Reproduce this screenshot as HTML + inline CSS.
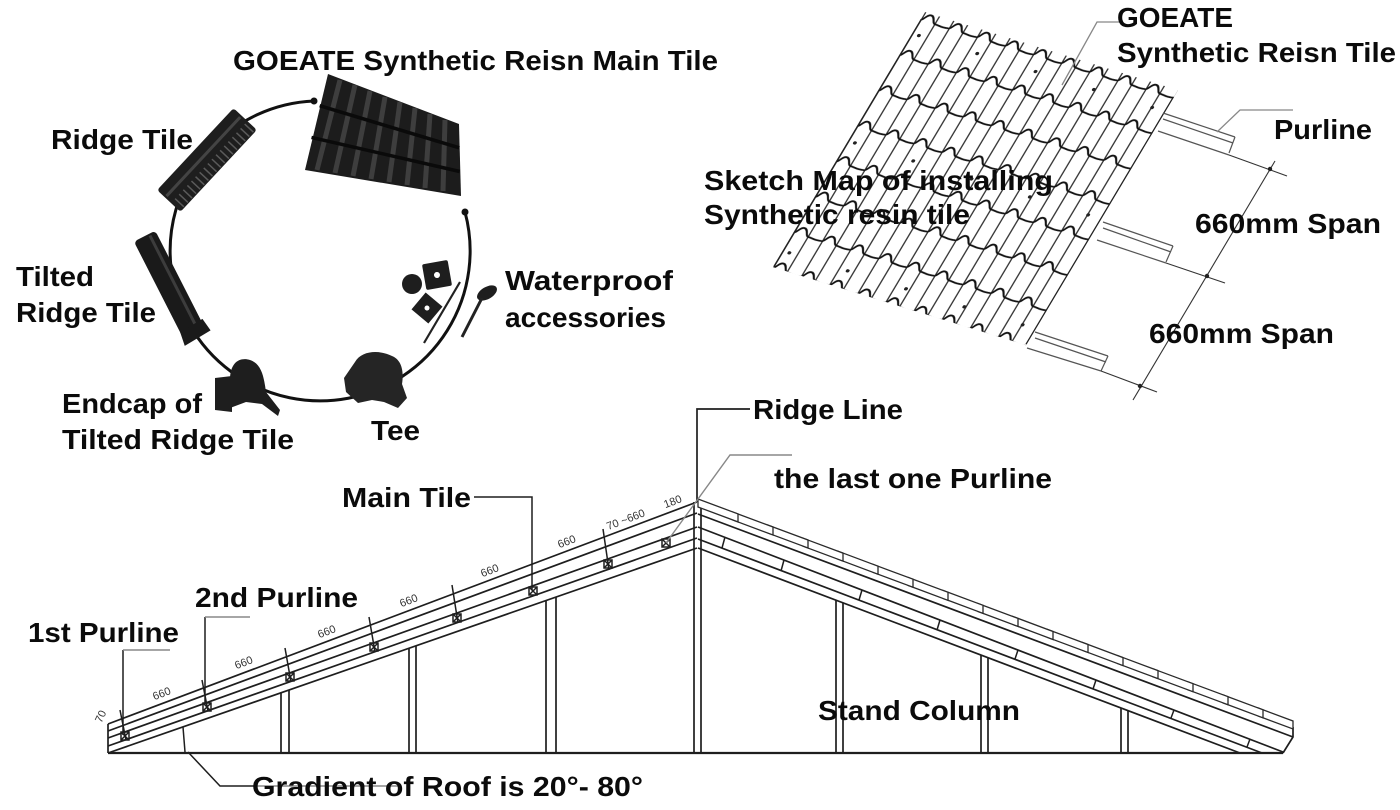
<!DOCTYPE html>
<html><head><meta charset="utf-8"><style>
html,body{margin:0;padding:0;background:#fff;}
svg{display:block;}
.t{font-family:"Liberation Sans",Arial,sans-serif;font-weight:bold;font-size:28px;fill:#0b0b0b;}
.s{font-family:"Liberation Sans",Arial,sans-serif;font-size:11px;fill:#333;}
</style></head><body>
<svg width="1400" height="810" viewBox="0 0 1400 810" xmlns="http://www.w3.org/2000/svg">
<defs>
<pattern id="tp" patternUnits="userSpaceOnUse" width="29.4" height="41.26">
 <path d="M0.8,0 V41.26 M15.2,0 V41.26" stroke="#2a2a2a" stroke-width="1.3" fill="none"/>
 <path d="M0,9 C3,9 3,1.5 7.5,1.5 C12,1.5 12,9 15,9 C20,9 24,10.5 29.4,9" stroke="#111" stroke-width="1.9" fill="none"/>
</pattern>
</defs>
<rect width="1400" height="810" fill="#fff"/>

<!-- ===== Circle diagram ===== -->
<path d="M314,101 A150,150 0 1 0 465,212" fill="none" stroke="#111" stroke-width="3"/>
<circle cx="314" cy="101" r="3.5" fill="#111"/>
<circle cx="465" cy="212" r="3.5" fill="#111"/>

<!-- main tile -->
<polygon points="328,74 459,124 461,196 305,170" fill="#1c1c1c"/>
<g stroke="#3e3e3e" stroke-width="5">
<line x1="340" y1="80" x2="317" y2="170"/>
<line x1="355" y1="85" x2="335" y2="173"/>
<line x1="370" y1="91" x2="353" y2="176"/>
<line x1="385" y1="97" x2="371" y2="179"/>
<line x1="400" y1="102" x2="389" y2="182"/>
<line x1="415" y1="108" x2="407" y2="185"/>
<line x1="430" y1="114" x2="425" y2="188"/>
<line x1="445" y1="120" x2="443" y2="191"/>
</g>
<g stroke="#0a0a0a" stroke-width="3.5">
<line x1="319.7" y1="105.7" x2="459.3" y2="147.8"/>
<line x1="311.5" y1="137.4" x2="459.7" y2="171.5"/>
</g>

<!-- ridge tile -->
<g transform="translate(207,160) rotate(-47)">
<rect x="-56" y="-16" width="112" height="32" rx="3" fill="#1e1e1e"/>
<line x1="-54" y1="-5" x2="54" y2="-5" stroke="#444" stroke-width="3"/>
<g stroke="#5a5a5a" stroke-width="1.5">
<line x1="-50" y1="3" x2="-50" y2="15"/><line x1="-44" y1="3" x2="-44" y2="15"/><line x1="-38" y1="3" x2="-38" y2="15"/><line x1="-32" y1="3" x2="-32" y2="15"/><line x1="-26" y1="3" x2="-26" y2="15"/><line x1="-20" y1="3" x2="-20" y2="15"/><line x1="-14" y1="3" x2="-14" y2="15"/><line x1="-8" y1="3" x2="-8" y2="15"/><line x1="-2" y1="3" x2="-2" y2="15"/><line x1="4" y1="3" x2="4" y2="15"/><line x1="10" y1="3" x2="10" y2="15"/><line x1="16" y1="3" x2="16" y2="15"/><line x1="22" y1="3" x2="22" y2="15"/><line x1="28" y1="3" x2="28" y2="15"/><line x1="34" y1="3" x2="34" y2="15"/><line x1="40" y1="3" x2="40" y2="15"/><line x1="46" y1="3" x2="46" y2="15"/><line x1="52" y1="3" x2="52" y2="15"/>
</g>
</g>

<!-- tilted ridge tile -->
<g transform="translate(170,286) rotate(63)">
<rect x="-56" y="-12" width="112" height="24" rx="4" fill="#1a1a1a"/>
<line x1="-54" y1="-5" x2="54" y2="-5" stroke="#3c3c3c" stroke-width="3"/>
<polygon points="44,-14 58,-16 60,14 46,12" fill="#1a1a1a"/>
</g>

<!-- endcap -->
<polygon points="215,378 232,376 232,412 215,410" fill="#1e1e1e"/>
<path d="M230,408 L230,380 C230,362 240,357 250,360 C262,364 264,378 266,392 L280,410 L278,416 L262,404 L246,402 Z" fill="#1e1e1e"/>

<!-- tee -->
<path d="M355,362 C362,350 380,350 392,356 C402,360 404,372 402,384 L407,398 L398,408 L384,402 L372,400 L358,403 L346,392 L344,378 Z" fill="#252525"/>

<!-- accessories -->
<circle cx="412" cy="284" r="10" fill="#1e1e1e"/>
<g transform="translate(437,275) rotate(-10)"><rect x="-13" y="-13" width="26" height="26" rx="2" fill="#1e1e1e"/><circle r="3" fill="#fff"/></g>
<g transform="translate(427,308) rotate(40)"><rect x="-11" y="-11" width="22" height="22" fill="#1e1e1e"/><circle r="2.5" fill="#fff"/></g>
<line x1="460" y1="282" x2="424" y2="343" stroke="#222" stroke-width="2.2"/>
<ellipse cx="487" cy="293" rx="11" ry="6" transform="rotate(-30 487 293)" fill="#1e1e1e"/>
<line x1="482" y1="298" x2="462" y2="337" stroke="#222" stroke-width="3"/>

<!-- circle labels -->
<text class="t" x="233" y="70" textLength="485" lengthAdjust="spacingAndGlyphs">GOEATE Synthetic Reisn Main Tile</text>
<text class="t" x="51" y="149" textLength="142" lengthAdjust="spacingAndGlyphs">Ridge Tile</text>
<text class="t" x="16" y="286" textLength="78" lengthAdjust="spacingAndGlyphs">Tilted</text>
<text class="t" x="16" y="322" textLength="140" lengthAdjust="spacingAndGlyphs">Ridge Tile</text>
<text class="t" x="62" y="413" textLength="140" lengthAdjust="spacingAndGlyphs">Endcap of</text>
<text class="t" x="62" y="449" textLength="232" lengthAdjust="spacingAndGlyphs">Tilted Ridge Tile</text>
<text class="t" x="371" y="440" textLength="49" lengthAdjust="spacingAndGlyphs">Tee</text>
<text class="t" x="505" y="290" textLength="168" lengthAdjust="spacingAndGlyphs">Waterproof</text>
<text class="t" x="505" y="327" textLength="161" lengthAdjust="spacingAndGlyphs">accessories</text>

<!-- ===== Tile sketch ===== -->
<g transform="matrix(0.956 0.295 -0.512 0.859 925 12)">
<rect width="264.7" height="297" fill="url(#tp)"/>
<line x1="0.5" y1="8" x2="0.5" y2="296" stroke="#222" stroke-width="1.3"/>
<line x1="264.2" y1="8" x2="264.2" y2="296" stroke="#222" stroke-width="1.3"/>
<g fill="#222">
<circle cx="7" cy="25" r="1.8"/><circle cx="68" cy="25" r="1.8"/><circle cx="129" cy="25" r="1.8"/><circle cx="190" cy="25" r="1.8"/><circle cx="251" cy="25" r="1.8"/>
<circle cx="7" cy="150" r="1.8"/><circle cx="68" cy="150" r="1.8"/><circle cx="129" cy="150" r="1.8"/><circle cx="190" cy="150" r="1.8"/><circle cx="251" cy="150" r="1.8"/>
<circle cx="7" cy="278" r="1.8"/><circle cx="68" cy="278" r="1.8"/><circle cx="129" cy="278" r="1.8"/><circle cx="190" cy="278" r="1.8"/><circle cx="251" cy="278" r="1.8"/>
</g>
</g>

<!-- purlines -->
<g stroke="#555" stroke-width="1.2" fill="none">
<line x1="1163" y1="113" x2="1235" y2="137"/><line x1="1163" y1="119" x2="1233" y2="143"/><line x1="1235" y1="137" x2="1229" y2="153"/><line x1="1158" y1="131" x2="1229" y2="155"/>
<line x1="1103" y1="222" x2="1173" y2="246"/><line x1="1103" y1="228" x2="1171" y2="252"/><line x1="1173" y1="246" x2="1166" y2="262"/><line x1="1097" y1="240" x2="1166" y2="263"/>
<line x1="1035" y1="332" x2="1108" y2="356"/><line x1="1035" y1="338" x2="1106" y2="362"/><line x1="1108" y1="356" x2="1101" y2="371"/><line x1="1027" y1="348" x2="1101" y2="371"/>
</g>
<g stroke="#333" stroke-width="1.1">
<line x1="1229" y1="155" x2="1287" y2="176"/>
<line x1="1166" y1="263" x2="1225" y2="283"/>
<line x1="1101" y1="371" x2="1157" y2="392"/>
<line x1="1275" y1="161" x2="1133" y2="400"/>
</g>
<g fill="#222"><circle cx="1270" cy="169" r="2.2"/><circle cx="1207" cy="276" r="2.2"/><circle cx="1140" cy="386" r="2.2"/></g>
<polyline points="1217,132 1240,110 1293,110" fill="none" stroke="#888" stroke-width="1.3"/>
<polyline points="1062,85 1097,22 1120,22" fill="none" stroke="#888" stroke-width="1.3"/>

<text class="t" x="1117" y="27" textLength="116" lengthAdjust="spacingAndGlyphs">GOEATE</text>
<text class="t" x="1117" y="62" textLength="279" lengthAdjust="spacingAndGlyphs">Synthetic Reisn Tile</text>
<text class="t" x="1274" y="139" textLength="98" lengthAdjust="spacingAndGlyphs">Purline</text>
<text class="t" x="704" y="190" textLength="349" lengthAdjust="spacingAndGlyphs">Sketch Map of installing</text>
<text class="t" x="704" y="224" textLength="266" lengthAdjust="spacingAndGlyphs">Synthetic resin tile</text>
<text class="t" x="1195" y="233" textLength="186" lengthAdjust="spacingAndGlyphs">660mm Span</text>
<text class="t" x="1149" y="343" textLength="185" lengthAdjust="spacingAndGlyphs">660mm Span</text>

<!-- ===== Roof truss ===== -->
<g stroke="#1e1e1e" stroke-width="1.7" fill="none">
<line x1="108" y1="753" x2="1283" y2="753" stroke-width="2.2"/>
<line x1="108" y1="724" x2="697" y2="502"/>
<line x1="108" y1="731" x2="697" y2="513"/>
<line x1="108" y1="738" x2="697" y2="527"/>
<line x1="108" y1="746" x2="697" y2="538"/>
<line x1="108" y1="753" x2="697" y2="548"/>
<line x1="108" y1="724" x2="108" y2="753"/>
<line x1="698" y1="505" x2="1293" y2="727"/>
<line x1="698" y1="514" x2="1293" y2="737"/>
<line x1="698" y1="527" x2="1283" y2="752"/>
<line x1="698" y1="539" x2="1262" y2="753"/>
<line x1="698" y1="548" x2="1240" y2="753"/>
<polyline points="1293,727 1293,737 1283,753"/>
<line x1="694" y1="502" x2="694" y2="753"/>
<line x1="701" y1="502" x2="701" y2="753"/>
<polyline points="750,409 697,409 697,502"/>
<line x1="281" y1="693" x2="281" y2="753"/><line x1="289" y1="690" x2="289" y2="753"/>
<line x1="409" y1="648" x2="409" y2="753"/><line x1="416" y1="646" x2="416" y2="753"/>
<line x1="546" y1="601" x2="546" y2="753"/><line x1="556" y1="597" x2="556" y2="753"/>
<line x1="836" y1="600" x2="836" y2="753"/><line x1="843" y1="603" x2="843" y2="753"/>
<line x1="981" y1="655" x2="981" y2="753"/><line x1="988" y1="658" x2="988" y2="753"/>
<line x1="1121" y1="708" x2="1121" y2="753"/><line x1="1128" y1="711" x2="1128" y2="753"/>
</g>

<!-- left purline ticks & boxes -->
<g stroke="#1e1e1e" stroke-width="1.5" fill="none">
<line x1="120" y1="710" x2="126" y2="740"/><rect x="121" y="732" width="8" height="8"/><path d="M121,732 L129,740 M129,732 L121,740"/>
<line x1="202" y1="680" x2="208" y2="711"/><rect x="203" y="703" width="8" height="8"/><path d="M203,703 L211,711 M211,703 L203,711"/>
<line x1="285" y1="648" x2="291" y2="682"/><rect x="286" y="673" width="8" height="8"/><path d="M286,673 L294,681 M294,673 L286,681"/>
<line x1="369" y1="617" x2="375" y2="652"/><rect x="370" y="643" width="8" height="8"/><path d="M370,643 L378,651 M378,643 L370,651"/>
<line x1="452" y1="585" x2="458" y2="623"/><rect x="453" y="614" width="8" height="8"/><path d="M453,614 L461,622 M461,614 L453,622"/>
<rect x="529" y="587" width="8" height="8"/><path d="M529,587 L537,595 M537,587 L529,595"/>
<line x1="603" y1="529" x2="609" y2="570"/><rect x="604" y="560" width="8" height="8"/><path d="M604,560 L612,568 M612,560 L604,568"/>
<rect x="662" y="539" width="8" height="8"/><path d="M662,539 L670,547 M670,539 L662,547"/>
<line x1="183" y1="727" x2="185" y2="752"/>
</g>

<!-- right markers -->
<g stroke="#1e1e1e" stroke-width="1.5">
<line x1="725" y1="537" x2="722" y2="548"/><line x1="784" y1="560" x2="781" y2="571"/><line x1="862" y1="590" x2="859" y2="600"/><line x1="940" y1="620" x2="937" y2="630"/><line x1="1018" y1="650" x2="1015" y2="659"/><line x1="1096" y1="680" x2="1093" y2="689"/><line x1="1174" y1="710" x2="1171" y2="718"/><line x1="1250" y1="739" x2="1247" y2="747"/>
</g>

<!-- right shingles -->
<g fill="#fff" stroke="#2a2a2a" stroke-width="1.3">
<polygon points="1258,707.9 1293,721 1293,729 1258,715.9"/>
<polygon points="1223,694.9 1263,709.8 1263,717.8 1223,702.9"/>
<polygon points="1188,681.8 1228,696.7 1228,704.7 1188,689.8"/>
<polygon points="1153,668.8 1193,683.7 1193,691.7 1153,676.8"/>
<polygon points="1118,655.7 1158,670.6 1158,678.6 1118,663.7"/>
<polygon points="1083,642.6 1123,657.6 1123,665.6 1083,650.6"/>
<polygon points="1048,629.6 1088,644.5 1088,652.5 1048,637.6"/>
<polygon points="1013,616.5 1053,631.5 1053,639.5 1013,624.5"/>
<polygon points="978,603.5 1018,618.4 1018,626.4 978,611.5"/>
<polygon points="943,590.4 983,605.3 983,613.3 943,598.4"/>
<polygon points="908,577.4 948,592.3 948,600.3 908,585.4"/>
<polygon points="873,564.3 913,579.2 913,587.2 873,572.3"/>
<polygon points="838,551.2 878,566.2 878,574.2 838,559.2"/>
<polygon points="803,538.2 843,553.1 843,561.1 803,546.2"/>
<polygon points="768,525.1 808,540 808,548 768,533.1"/>
<polygon points="733,512.1 773,527 773,535 733,520.1"/>
<polygon points="698,499 738,513.9 738,521.9 698,507"/>
</g>

<!-- leaders -->
<g stroke="#1e1e1e" stroke-width="1.5" fill="none">
<polyline points="474,497 532,497 532,590"/>
<polyline points="205,705 205,617"/>
<polyline points="123,735 123,650"/>
<polyline points="188,752 220,786 255,786"/>
</g>
<g stroke="#888" stroke-width="1.4" fill="none">
<line x1="205" y1="617" x2="250" y2="617"/>
<line x1="123" y1="650" x2="170" y2="650"/>
<polyline points="666,543 730,455 792,455"/>
<line x1="255" y1="786" x2="400" y2="786"/>
</g>

<!-- small dimension labels -->
<text class="s" transform="translate(104,718) rotate(-65)" text-anchor="middle">70</text>
<text class="s" transform="translate(163,697) rotate(-21)" text-anchor="middle">660</text>
<text class="s" transform="translate(245,666) rotate(-21)" text-anchor="middle">660</text>
<text class="s" transform="translate(328,635) rotate(-21)" text-anchor="middle">660</text>
<text class="s" transform="translate(410,604) rotate(-21)" text-anchor="middle">660</text>
<text class="s" transform="translate(491,574) rotate(-21)" text-anchor="middle">660</text>
<text class="s" transform="translate(568,545) rotate(-21)" text-anchor="middle">660</text>
<text class="s" transform="translate(627,523) rotate(-21)" text-anchor="middle">70 ~660</text>
<text class="s" transform="translate(674,505) rotate(-21)" text-anchor="middle">180</text>

<!-- roof labels -->
<text class="t" x="342" y="507" textLength="129" lengthAdjust="spacingAndGlyphs">Main Tile</text>
<text class="t" x="195" y="607" textLength="163" lengthAdjust="spacingAndGlyphs">2nd Purline</text>
<text class="t" x="28" y="642" textLength="151" lengthAdjust="spacingAndGlyphs">1st Purline</text>
<text class="t" x="252" y="796" textLength="391" lengthAdjust="spacingAndGlyphs">Gradient of Roof is 20°- 80°</text>
<text class="t" x="753" y="419" textLength="150" lengthAdjust="spacingAndGlyphs">Ridge Line</text>
<text class="t" x="774" y="488" textLength="278" lengthAdjust="spacingAndGlyphs">the last one Purline</text>
<text class="t" x="818" y="720" textLength="202" lengthAdjust="spacingAndGlyphs">Stand Column</text>
</svg>
</body></html>
